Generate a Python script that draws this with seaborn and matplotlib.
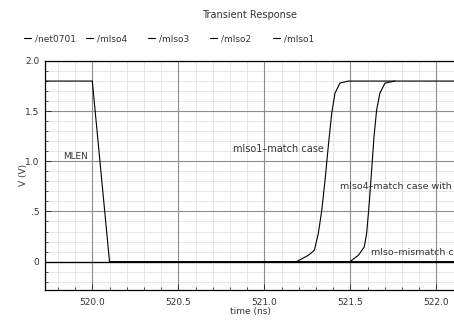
import matplotlib
matplotlib.use("Agg")
import matplotlib.pyplot as plt
from matplotlib.ticker import MultipleLocator, FixedLocator, FixedFormatter
import seaborn as sns
import pandas as pd
import numpy as np

# ---- data (time in ns, voltage in V) ----
net0701_t = [519.70, 520.00, 520.10, 522.20]
net0701_v = [1.80, 1.80, 0.00, 0.00]

mlso4_t = [521.372, 521.498, 521.547, 521.581, 521.595, 521.610, 521.624,
           521.638, 521.653, 521.672, 521.702, 521.760]
mlso4_v = [0.00, 0.00, 0.063, 0.146, 0.28, 0.58, 0.91, 1.25, 1.51, 1.68, 1.78, 1.80]

mlso3_t = [519.70, 522.20]
mlso3_v = [0.00, 0.00]

mlso2_t = [519.70, 522.20]
mlso2_v = [0.00, 0.00]

mlso1_t = [521.052, 521.188, 521.256, 521.291, 521.314, 521.334, 521.353,
           521.372, 521.392, 521.411, 521.440, 521.488, 522.200]
mlso1_v = [0.00, 0.00, 0.063, 0.113, 0.28, 0.51, 0.81, 1.15, 1.48, 1.68, 1.78, 1.80, 1.80]

series_names = ["/net0701", "/mlso4", "/mlso3", "/mlso2", "/mlso1"]
series_t = [net0701_t, mlso4_t, mlso3_t, mlso2_t, mlso1_t]
series_v = [net0701_v, mlso4_v, mlso3_v, mlso2_v, mlso1_v]

x_ticks = [520.0, 520.5, 521.0, 521.5, 522.0]
x_ticklabels = ["520.0", "520.5", "521.0", "521.5", "522.0"]
y_ticks = [0.0, 0.5, 1.0, 1.5, 2.0]
y_ticklabels = ["0", ".5", "1.0", "1.5", "2.0"]

annotations = [
    ("MLEN", 519.828, 1.046, "left", 6.4),
    ("mlso1\u2013match case", 521.344, 1.12, "right", 7),
    ("mlso4\u2013match case with X", 521.44, 0.746, "left", 6.8),
    ("mlso\u2013mismatch case", 521.619, 0.086, "left", 6.8),
]

# ---- figure ----
sns.set_style("white")
plt.rcParams["font.family"] = ["DejaVu Sans"]

W, H = 454, 320
fig = plt.figure(figsize=(W / 100, H / 100), dpi=100)
ax = fig.add_axes([45 / W, 1 - 289.7 / H, 411 / W, (289.7 - 61) / H])

frames = []
for name, t, v in zip(series_names, series_t, series_v):
    frames.append(pd.DataFrame({"time": t, "V": v, "signal": name}))
df = pd.concat(frames, ignore_index=True)

for name in series_names:
    sub = df[df["signal"] == name]
    sns.lineplot(data=sub, x="time", y="V", ax=ax, color="black", lw=0.8,
                 estimator=None, sort=False, label=name, legend=False, zorder=5)

xlim = (519.725, 520 + (456 - 92.3) / 172)
ylim = (-0.28, 2.0)
ax.set_xlim(*xlim)
ax.set_ylim(*ylim)

ax.xaxis.set_major_locator(FixedLocator(x_ticks))
ax.xaxis.set_major_formatter(FixedFormatter(x_ticklabels))
ax.yaxis.set_major_locator(FixedLocator(y_ticks))
ax.yaxis.set_major_formatter(FixedFormatter(y_ticklabels))
ax.xaxis.set_minor_locator(MultipleLocator(0.1))
ax.yaxis.set_minor_locator(MultipleLocator(0.1))

# minor grid (drawn below the major grid)
minor_x = np.arange(519.8, xlim[1], 0.1)
minor_y = np.arange(-0.2, 2.0, 0.1)
ax.vlines(minor_x, *ylim, colors="#e3e3e3", lw=0.6, zorder=0.2)
ax.hlines(minor_y, *xlim, colors="#e3e3e3", lw=0.6, zorder=0.2)
ax.grid(which="major", color="#8c8c8c", lw=0.8)
ax.set_axisbelow(True)
ax.axhline(0, color="#333333", lw=0.8, zorder=4)

ax.tick_params(which="both", direction="in", colors="#333333", labelsize=6.5,
               bottom=True, left=True, top=False, right=False)
ax.tick_params(which="major", length=4, width=0.7)
ax.tick_params(axis="x", which="major", pad=6)
ax.tick_params(axis="y", which="major", pad=4)
ax.tick_params(which="minor", length=2.5, width=0.6)

for s in ["top", "left", "bottom"]:
    ax.spines[s].set_color("black")
    ax.spines[s].set_linewidth(0.9)
ax.spines["right"].set_visible(False)

ax.set_xlabel("time (ns)", fontsize=6.5, color="#333333", labelpad=0)
ax.set_ylabel("V (V)", fontsize=6.5, color="#333333", labelpad=-2)

for txt, tx, ty, ha, fs in annotations:
    ax.text(tx, ty, txt, fontsize=fs, color="#333333", ha=ha, va="center",
            zorder=6, clip_on=True)

fig.text(250 / W, 1 - 15 / H, "Transient Response", fontsize=7, color="#333333",
         ha="center", va="center")

# legend entries at fixed pitch
handles = ax.get_lines()[:5]
leg_x = [24, 86, 148, 210, 273]
for h, name, lx in zip(handles, series_names, leg_x):
    fig.legend([h], [name], loc="center left", bbox_to_anchor=(lx / W, 1 - 39 / H),
               frameon=False, fontsize=6.5, handlelength=0.8, handletextpad=0.4,
               borderpad=0, borderaxespad=0, labelcolor="#333333")

fig.savefig("out.png", dpi=100)
